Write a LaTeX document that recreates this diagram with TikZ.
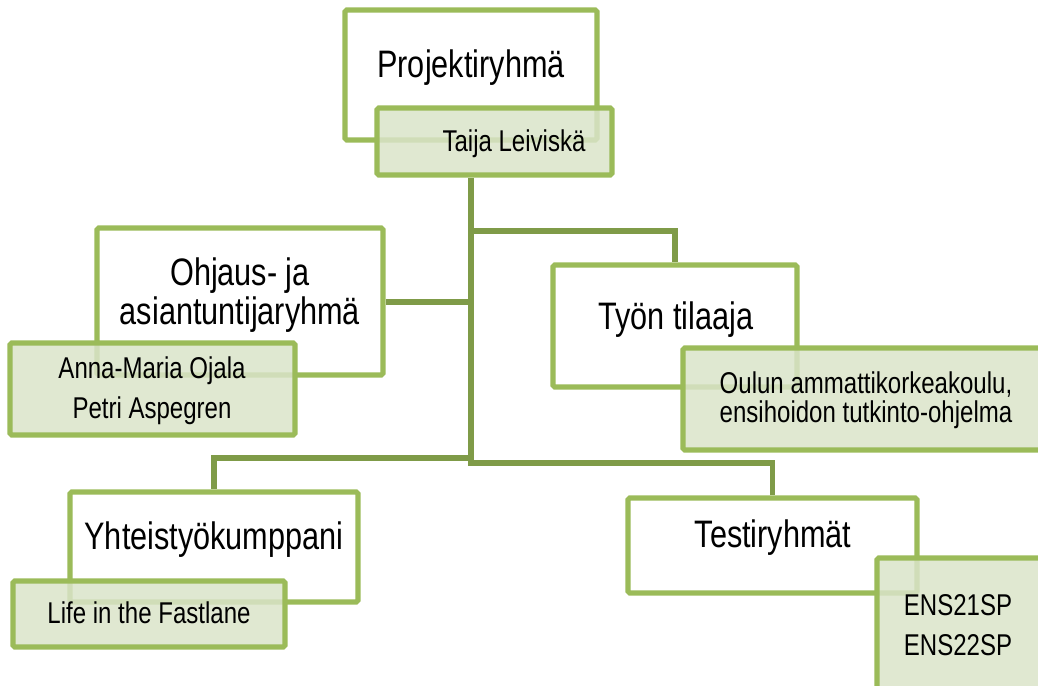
\documentclass[tikz,border=0pt]{standalone}
\usepackage{fontspec}
\setmainfont{Liberation Sans}[FakeStretch=0.8]
\usetikzlibrary{fit}
\definecolor{boxline}{RGB}{155,187,89}
\definecolor{linkline}{RGB}{127,155,72}
\definecolor{subfill}{RGB}{218,228,201}
\begin{document}
\begin{tikzpicture}
	[x=0.02cm, y=-0.02cm,
	box/.style={draw=boxline, line width=3pt, rounded corners=1pt, fill=white, inner sep=0pt},
	sub/.style={box, fill=subfill, fill opacity=0.85},
	head/.style={inner sep=0pt, anchor=base, align=center, font=\fontsize{21.8}{21.8}\selectfont},
	who/.style={inner sep=0pt, anchor=base, align=center, font=\fontsize{17.1}{22.4}\selectfont},
	link/.style={draw=linkline, line width=3.2pt}]
	\useasboundingbox (0,0) rectangle (1038,686);
	\clip (0,0) rectangle (1038,686);
	\node[box, fit={(345,10) (597,140)}] (p) {};
	\node[box, fit={(97,228) (383,375)}] (o) {};
	\node[box, fit={(553,265) (797,387)}] (t) {};
	\node[box, fit={(70,492) (358,602)}] (y) {};
	\node[box, fit={(628,498) (917,593)}] (r) {};
	\node[head] (p1) at (471,78) {Projektiryhmä};
	\node[head] (o1) at (240,324) {Ohjaus- ja\\asiantuntijaryhmä};
	\node[head] (t1) at (676,329) {Työn tilaaja};
	\node[head] (y1) at (214,549) {Yhteistyökumppani};
	\node[head] (r1) at (773,547) {Testiryhmät};
	
	\node[sub, fit={(377,108) (612,175)}] (pa) {};
	\node[sub, fit={(10,343) (295,435)}] (oa) {};
	\node[sub, fit={(683,348) (1050,450)}] (ta) {};
	\node[sub, fit={(13,581) (285,647)}] (ya) {};
	\node[sub, fit={(877,558) (1050,700)}] (ra) {};
	\node[who] (pa1) at (514,152) {Taija Leiviskä};
	\node[who] (oa1) at (152,418) {Anna-Maria Ojala\\Petri Aspegren};
	\node[who, font=\fontsize{17.1}{16.4}\selectfont] (ta1) at (866,422) {Oulun ammattikorkeakoulu,\\ensihoidon tutkinto-ohjelma};
	\node[who] (ya1) at (149,623) {Life in the Fastlane};
	\node[who] (ra1) at (958,655) {ENS21SP\\ENS22SP};
	
	\coordinate (k1) at (471,231);
	\coordinate (k2) at (471,302);
	\coordinate (k3) at (471,458);
	\coordinate (k4) at (471,463);
	\draw[link] (p.south |- pa.south) -- (k4) -| (r.north);
	\draw[link] (k1) -| (t.north);
	\draw[link] (k2) -- (o.east |- k2);
	\draw[link] (k3) -| (y.north);
\end{tikzpicture}
\end{document}
